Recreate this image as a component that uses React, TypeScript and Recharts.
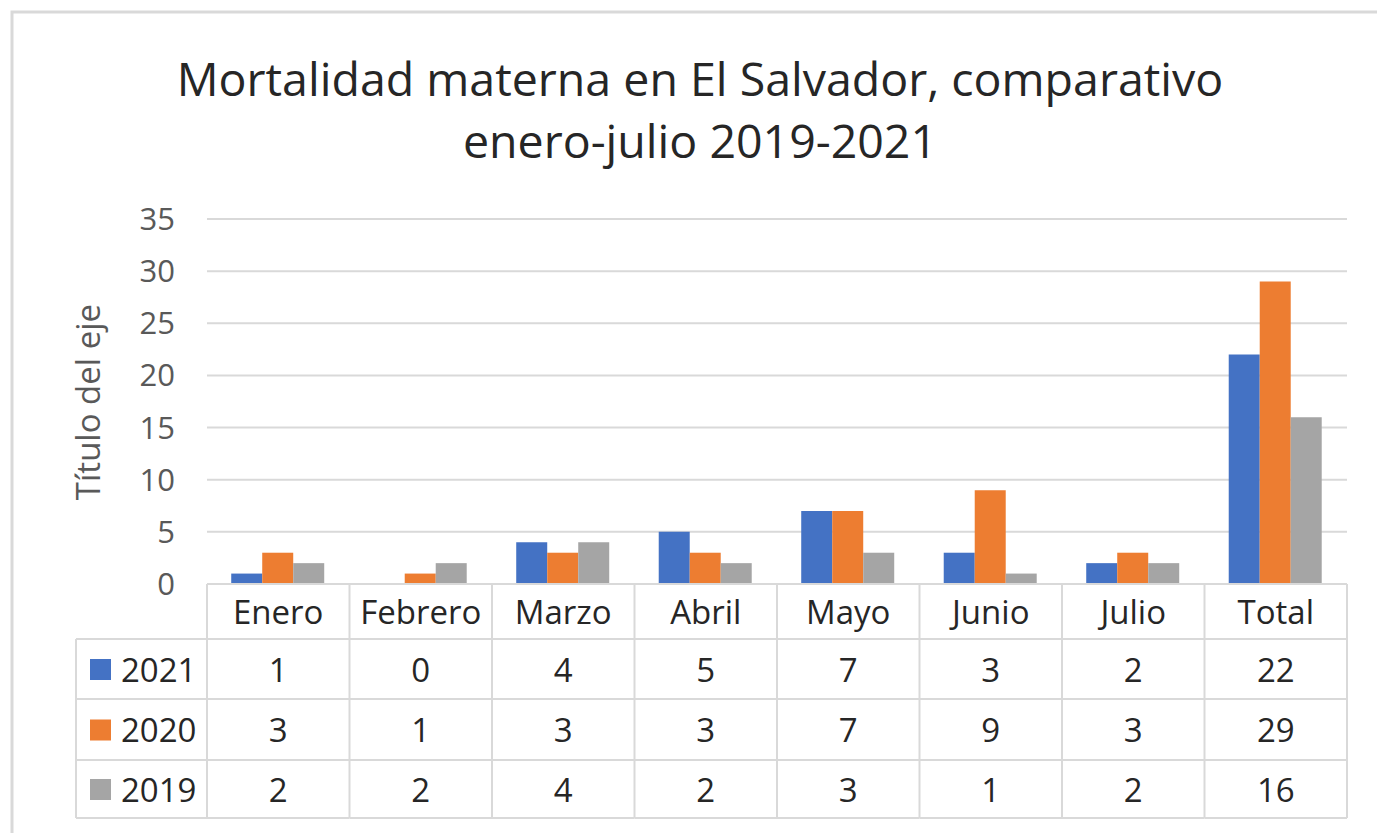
import React from 'react'
import { BarChart, Bar, XAxis, YAxis, CartesianGrid } from 'recharts'

const meses = ['Enero', 'Febrero', 'Marzo', 'Abril', 'Mayo', 'Junio', 'Julio', 'Total']
const serie2021 = [1, 0, 4, 5, 7, 3, 2, 22]
const serie2020 = [3, 1, 3, 3, 7, 9, 3, 29]
const serie2019 = [2, 2, 4, 2, 3, 1, 2, 16]
const yTicks = [0, 5, 10, 15, 20, 25, 30, 35]

const series = [
  { key: 'y2021', name: '2021', color: '#4472C4', values: serie2021 },
  { key: 'y2020', name: '2020', color: '#ED7D31', values: serie2020 },
  { key: 'y2019', name: '2019', color: '#A5A5A5', values: serie2019 },
]

const data = meses.map((mes, i) => ({
  mes,
  y2021: serie2021[i],
  y2020: serie2020[i],
  y2019: serie2019[i],
}))

const W = 1377
const H = 833
const FONT = '"Open Sans", sans-serif'
const GRID = '#d9d9d9'
const TEXT = '#262626'
const AXIS_TEXT = '#595959'

// layout of the data table under the plot
const PLOT_LEFT = 207
const PLOT_RIGHT = 1347
const PLOT_BOTTOM = 584
const ROWS = [584, 639, 699, 760, 818]
const LEGEND_LEFT = 76
const BAND = (PLOT_RIGHT - PLOT_LEFT) / meses.length
const TABLE_FS = 33

const mid = (r: number) => (ROWS[r] + ROWS[r + 1]) / 2

function TableColumn({ x, payload, index }: any) {
  const left = x - BAND / 2
  const right = x + BAND / 2
  return (
    <g>
      <line x1={left} x2={left} y1={ROWS[0]} y2={ROWS[4]} stroke={GRID} strokeWidth={2} />
      {index === meses.length - 1 && (
        <line x1={right} x2={right} y1={ROWS[0]} y2={ROWS[4]} stroke={GRID} strokeWidth={2} />
      )}
      {ROWS.slice(1).map((ry) => (
        <line key={ry} x1={left} x2={right} y1={ry} y2={ry} stroke={GRID} strokeWidth={2} />
      ))}
      <text x={x} y={mid(0)} textAnchor="middle" dominantBaseline="central" fontSize={TABLE_FS} fill={TEXT} fontFamily={FONT}>
        {payload.value}
      </text>
      {series.map((s, r) => (
        <text key={s.key} x={x} y={mid(r + 1)} textAnchor="middle" dominantBaseline="central" fontSize={TABLE_FS} fill={TEXT} fontFamily={FONT}>
          {s.values[index]}
        </text>
      ))}
    </g>
  )
}

export default function App() {
  return (
    <div style={{ position: 'absolute', left: 0, top: 0, width: W, height: H, background: '#fff', overflow: 'hidden' }}>
      <svg width={W} height={H} style={{ position: 'absolute', left: 0, top: 0 }}>
        <rect x={12} y={12} width={W} height={H} fill="none" stroke={GRID} strokeWidth={3} />
        <text x={700} y={78} textAnchor="middle" dominantBaseline="central" fontSize={46.5} fill={TEXT} fontFamily={FONT}>
          Mortalidad materna en El Salvador, comparativo
        </text>
        <text x={700} y={140} textAnchor="middle" dominantBaseline="central" fontSize={46.5} fill={TEXT} fontFamily={FONT}>
          enero-julio 2019-2021
        </text>
        <text x={87} y={402} transform="rotate(-90 87 402)" textAnchor="middle" dominantBaseline="central" fontSize={33} fill={AXIS_TEXT} fontFamily={FONT}>
          Título del eje
        </text>
        {/* legend column of the data table */}
        <line x1={LEGEND_LEFT} x2={PLOT_LEFT} y1={ROWS[1]} y2={ROWS[1]} stroke={GRID} strokeWidth={2} />
        {series.map((s, r) => (
          <g key={s.key}>
            <line x1={LEGEND_LEFT} x2={PLOT_LEFT} y1={ROWS[r + 2]} y2={ROWS[r + 2]} stroke={GRID} strokeWidth={2} />
            <rect x={90} y={mid(r + 1) - 10} width={21} height={21} fill={s.color} />
            <text x={121} y={mid(r + 1)} dominantBaseline="central" fontSize={TABLE_FS} fill={TEXT} fontFamily={FONT}>
              {s.name}
            </text>
          </g>
        ))}
        <line x1={LEGEND_LEFT} x2={LEGEND_LEFT} y1={ROWS[1]} y2={ROWS[4]} stroke={GRID} strokeWidth={2} />
      </svg>
      <div style={{ position: 'absolute', left: 0, top: 0 }}>
        <BarChart
          width={W}
          height={H}
          data={data}
          margin={{ top: 219, right: W - PLOT_RIGHT, bottom: 15, left: 0 }}
          barCategoryGap="17%"
          barGap={0}
        >
          <CartesianGrid vertical={false} stroke={GRID} strokeWidth={2} />
          <YAxis
            width={PLOT_LEFT}
            domain={[0, 35]}
            ticks={yTicks}
            tickLine={false}
            axisLine={false}
            tickMargin={26}
            tick={{ fontSize: 31, fill: AXIS_TEXT, fontFamily: FONT }}
          />
          <XAxis
            dataKey="mes"
            height={H - 15 - PLOT_BOTTOM}
            axisLine={{ stroke: GRID, strokeWidth: 2 }}
            tickLine={false}
            interval={0}
            tick={<TableColumn />}
          />
          {series.map((s) => (
            <Bar key={s.key} dataKey={s.key} name={s.name} fill={s.color} isAnimationActive={false} />
          ))}
        </BarChart>
      </div>
    </div>
  )
}
